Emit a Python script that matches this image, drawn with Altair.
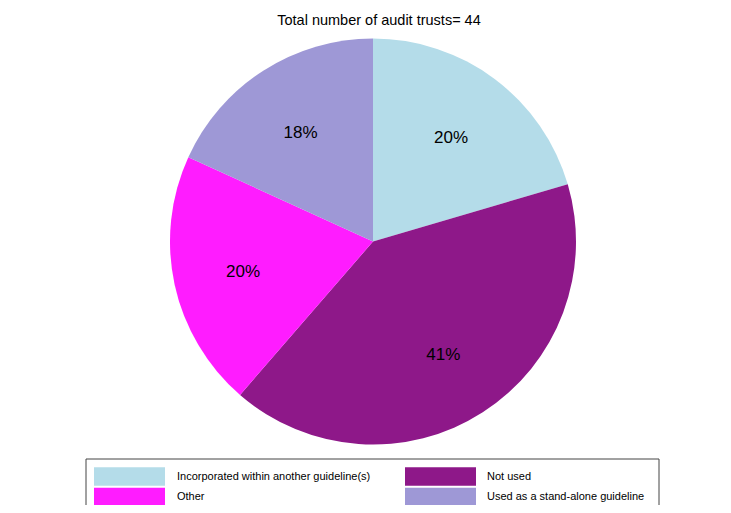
import altair as alt
import pandas as pd

categories = ["Incorporated within another guideline(s)", "Not used", "Other",
              "Used as a stand-alone guideline"]
counts = [9, 18, 9, 8]
colors = ["#B4DCE9", "#8E1889", "#FF1CFF", "#9E98D6"]
legend_col = [0, 1, 0, 1]
legend_row = [0, 0, 1, 1]

total = sum(counts)
df = pd.DataFrame({"category": categories, "count": counts, "idx": range(len(categories)),
                   "col": legend_col, "row": legend_row})

FONT = "Liberation Sans"
color = alt.Color("category:N", scale=alt.Scale(domain=categories, range=colors), legend=None)

base = alt.Chart(df)

pie = base.mark_arc(outerRadius=203, stroke=None).encode(
    theta=alt.Theta("count:Q", stack=True),
    color=color,
    order=alt.Order("idx:Q"),
    x=alt.value(365), y=alt.value(233.5),
)

labels = base.transform_calculate(
    pct="format(datum.count / " + str(total) + ", '.0%')"
).mark_text(radius=132, fontSize=17, font=FONT, color="black").encode(
    theta=alt.Theta("count:Q", stack=True),
    order=alt.Order("idx:Q"),
    text="pct:N",
    x=alt.value(364), y=alt.value(236),
)

title = alt.Chart(pd.DataFrame({"t": ["Total number of audit trusts= " + str(total)]})).mark_text(
    fontSize=14.5, font=FONT, color="black"
).encode(text="t:N", x=alt.value(371), y=alt.value(13))

box = alt.Chart(pd.DataFrame({"a": [0]})).mark_rect(
    fill="white", stroke="#444", strokeWidth=1
).encode(x=alt.value(78), x2=alt.value(651), y=alt.value(451), y2=alt.value(504))

sw_path = "M-1,-0.26L1,-0.26L1,0.26L-1,0.26Z"
swatches = base.mark_point(shape=sw_path, filled=True, size=5041, opacity=1, strokeWidth=0).encode(
    x=alt.X("col:Q", scale=alt.Scale(domain=[0, 1], range=[121.5, 432.5]), axis=None),
    y=alt.Y("row:Q", scale=alt.Scale(domain=[0, 1], range=[468.5, 489]), axis=None),
    color=color,
)

leg_text = base.mark_text(align="left", baseline="middle", fontSize=11, font=FONT, color="black").encode(
    x=alt.X("col:Q", scale=alt.Scale(domain=[0, 1], range=[169, 479]), axis=None),
    y=alt.Y("row:Q", scale=alt.Scale(domain=[0, 1], range=[468.5, 489]), axis=None),
    text="category:N",
)

chart = alt.layer(pie, labels, title, box, swatches, leg_text).resolve_scale(
    x="independent", y="independent"
).properties(
    width=715, height=497, padding=0, autosize="none"
).configure_view(stroke=None)

chart.save("out.html", embed_options={"renderer": "svg", "actions": False})
